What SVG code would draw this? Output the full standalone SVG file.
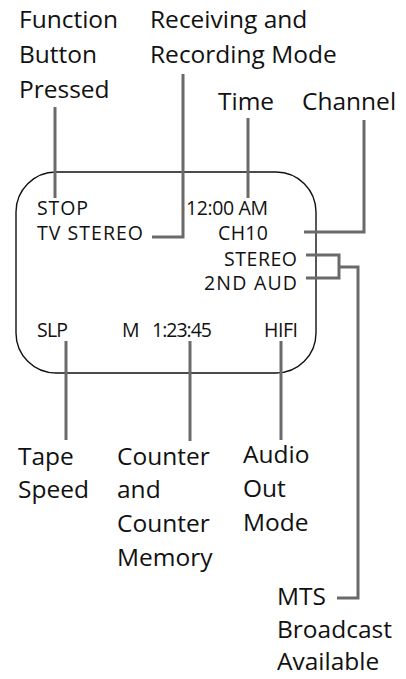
<svg xmlns="http://www.w3.org/2000/svg" width="406" height="679" viewBox="0 0 406 679">
<style>
text{font-family:"Open Sans","Liberation Sans",sans-serif;fill:#111}
.lbl{font-size:24.5px}
.in{font-size:19.5px}
.ln{fill:none;stroke:#6a6a6a;stroke-width:3}
</style>
<rect width="406" height="679" fill="#fff"/>
<g id="display">
<rect x="16" y="172" width="300" height="201" rx="40" ry="40" fill="none" stroke="#111" stroke-width="1.4"/>
<text class="in" x="37" y="215" textLength="51" lengthAdjust="spacing">STOP</text>
<text class="in" x="186" y="215" textLength="82" lengthAdjust="spacing">12:00 AM</text>
<text class="in" x="37" y="240" textLength="106" lengthAdjust="spacing">TV STEREO</text>
<text class="in" x="218" y="240" textLength="50" lengthAdjust="spacing">CH10</text>
<text class="in" x="224" y="266" textLength="73" lengthAdjust="spacing">STEREO</text>
<text class="in" x="204" y="290" textLength="93" lengthAdjust="spacing">2ND AUD</text>
<text class="in" x="37" y="337" textLength="31" lengthAdjust="spacing">SLP</text>
<text class="in" x="122" y="337">M</text>
<text class="in" x="152" y="337" textLength="60" lengthAdjust="spacing">1:23:45</text>
<text class="in" x="264" y="337" textLength="34" lengthAdjust="spacing">HIFI</text>
</g>
<g id="connectors">
<path class="ln" d="M55 107V198"/>
<path class="ln" d="M183 74V237H152"/>
<path class="ln" d="M248 118V198"/>
<path class="ln" d="M364 120V232H304"/>
<path class="ln" d="M306 255H339V278H306M339 267H358V598H337"/>
<path class="ln" d="M66 341V440"/>
<path class="ln" d="M190 341V441"/>
<path class="ln" d="M281 341V440"/>
</g>
<g id="label-function"><text class="lbl" x="19" y="28">Function</text><text class="lbl" x="19" y="63">Button</text><text class="lbl" x="19" y="98">Pressed</text></g>
<g id="label-receiving"><text class="lbl" x="150" y="28">Receiving and</text><text class="lbl" x="150" y="63">Recording Mode</text></g>
<g id="label-time"><text class="lbl" x="218" y="110">Time</text></g>
<g id="label-channel"><text class="lbl" x="302" y="110">Channel</text></g>
<g id="label-tape"><text class="lbl" x="18" y="465">Tape</text><text class="lbl" x="18" y="498">Speed</text></g>
<g id="label-counter"><text class="lbl" x="117" y="465">Counter</text><text class="lbl" x="117" y="498">and</text><text class="lbl" x="117" y="532">Counter</text><text class="lbl" x="117" y="566">Memory</text></g>
<g id="label-audio"><text class="lbl" x="243" y="463">Audio</text><text class="lbl" x="243" y="497">Out</text><text class="lbl" x="243" y="531">Mode</text></g>
<g id="label-mts"><text class="lbl" x="277" y="605">MTS</text><text class="lbl" x="277" y="638">Broadcast</text><text class="lbl" x="277" y="670">Available</text></g>
</svg>
